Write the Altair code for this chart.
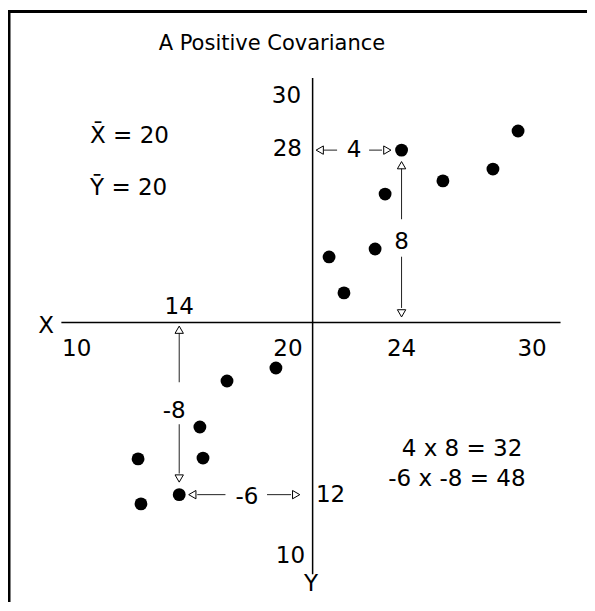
import altair as alt
import pandas as pd

FONT = "DejaVu Sans"

# scatter points (x, y)
pt_x = [20.74, 21.41, 22.81, 23.26, 24.0, 25.86, 28.11, 29.24,
        12.15, 12.28, 14.0, 14.93, 15.07, 16.15, 18.35]
pt_y = [23.04, 21.37, 23.41, 25.96, 28.0, 26.57, 27.12, 28.89,
        13.66, 11.57, 12.0, 15.14, 13.70, 17.28, 17.88]

# axis lines (means at 20)
ax_x = [8.7, 20.0]
ax_x2 = [31.15, 20.0]
ax_y = [20.0, 8.3]
ax_y2 = [20.0, 31.35]

# arrow shafts
sh_x = [20.48, 22.54, 24.0, 24.0, 14.0, 14.0, 14.81, 17.95]
sh_x2 = [21.10, 23.12, 24.0, 24.0, 14.0, 14.0, 16.08, 19.03]
sh_y = [28.0, 28.0, 27.17, 23.05, 19.50, 15.27, 12.0, 12.0]
sh_y2 = [28.0, 28.0, 24.79, 20.67, 17.22, 12.98, 12.0, 12.0]

# arrow heads
hd_x = [20.32, 23.36, 24.0, 24.0, 14.0, 14.0, 14.59, 19.26]
hd_y = [28.0, 28.0, 27.30, 20.42, 19.66, 12.75, 12.0, 12.0]
hd_shape = ["triangle-left", "triangle-right", "triangle-up", "triangle-down",
            "triangle-up", "triangle-down", "triangle-left", "triangle-right"]

# text labels
lt_text = ["X\u0304 = 20", "Y\u0304 = 20", "12", "10"]
lt_x = [9.99, 9.99, 20.15, 8.73]
lt_y = [28.66, 26.24, 12.0, 18.75]

rt_text = ["30", "28", "10"]
rt_x = [19.48, 19.52, 19.66]
rt_y = [30.51, 28.05, 9.15]

ct_text = ["Y", "X", "20", "24", "30", "14", "4", "8", "-8", "-6",
           "4 x 8 = 32", "-6 x -8 = 48"]
ct_x = [19.93, 8.01, 18.89, 24.0, 29.87, 14.0, 21.86, 24.0, 13.77, 17.05,
        26.72, 26.49]
ct_y = [7.85, 19.85, 18.75, 18.75, 18.75, 20.7, 28.0, 23.71, 15.9, 11.9,
        14.12, 12.73]

title_text = ["A Positive Covariance"]
title_x = [18.17]
title_y = [32.93]

XS = alt.Scale(domain=[6.3, 32.34], nice=False, zero=False)
YS = alt.Scale(domain=[7.015, 34.6], nice=False, zero=False)


def X(f="x"):
    return alt.X(f"{f}:Q", scale=XS, axis=None)


def Y(f="y"):
    return alt.Y(f"{f}:Q", scale=YS, axis=None)


pts = alt.Chart(pd.DataFrame({"x": pt_x, "y": pt_y})).mark_circle(
    size=165, color="black", opacity=1
).encode(x=X(), y=Y())

axes = alt.Chart(pd.DataFrame({"x": ax_x, "x2": ax_x2, "y": ax_y, "y2": ax_y2})).mark_rule(
    color="black", strokeWidth=1.5
).encode(x=X(), x2="x2:Q", y=Y(), y2="y2:Q")

shafts = alt.Chart(pd.DataFrame({"x": sh_x, "x2": sh_x2, "y": sh_y, "y2": sh_y2})).mark_rule(
    color="#222222", strokeWidth=1
).encode(x=X(), x2="x2:Q", y=Y(), y2="y2:Q")

heads = alt.Chart(pd.DataFrame({"x": hd_x, "y": hd_y, "shape": hd_shape})).mark_point(
    filled=False, fill="white", fillOpacity=1, stroke="black", strokeWidth=1,
    size=70, opacity=1
).encode(x=X(), y=Y(), shape=alt.Shape("shape:N", scale=None))


def texts(tx, xs, ys, align, size=23):
    return alt.Chart(pd.DataFrame({"x": xs, "y": ys, "t": tx})).mark_text(
        align=align, baseline="middle", font=FONT, fontSize=size, color="black"
    ).encode(x=X(), y=Y(), text="t:N")


t_left = texts(lt_text, lt_x, lt_y, "left")
t_right = texts(rt_text, rt_x, rt_y, "right")
t_center = texts(ct_text, ct_x, ct_y, "center")
t_title = texts(title_text, title_x, title_y, "center", size=21)

one = pd.DataFrame({"a": [0]})
frame_left = alt.Chart(one).mark_rule(color="black", strokeWidth=3).encode(
    x=alt.value(1.0), y=alt.value(2.0), y2=alt.value(594)
)
frame_top = alt.Chart(one).mark_rule(color="black", strokeWidth=3).encode(
    x=alt.value(0), x2=alt.value(579), y=alt.value(3.5)
)

chart = alt.layer(
    frame_left, frame_top, axes, shafts, heads, pts,
    t_left, t_right, t_center, t_title
).properties(
    width=579, height=594,
    autosize=alt.AutoSizeParams(type="none"),
    padding=0,
    background="white",
).configure_view(stroke=None)

chart.save("out.html", embed_options={"renderer": "svg", "actions": False})
